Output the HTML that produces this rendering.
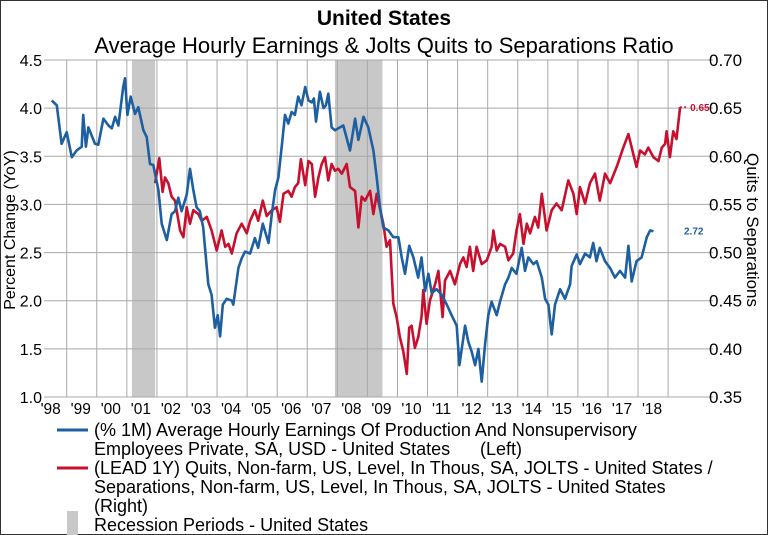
<!DOCTYPE html>
<html><head><meta charset="utf-8"><style>
html,body{margin:0;padding:0;background:#fff}
svg{display:block;font-family:"Liberation Sans",Arial,sans-serif}
</style></head><body>
<svg id="chart" width="768" height="535" viewBox="0 0 768 535">
<rect x="0.5" y="0.5" width="767" height="534" fill="#fff" stroke="#333"/>
<text x="384" y="25" text-anchor="middle" font-size="21" font-weight="bold" fill="#000">United States</text>
<text x="384" y="53" text-anchor="middle" font-size="22" fill="#000">Average Hourly Earnings &amp; Jolts Quits to Separations Ratio</text>
<g id="rec"></g>
<g id="grid"></g>
<g id="series"></g>
<g id="axes"></g>
<text transform="translate(15,230) rotate(-90)" text-anchor="middle" font-size="16" fill="#000">Percent Change (YoY)</text>
<text transform="translate(747,230) rotate(90)" text-anchor="middle" font-size="17" fill="#000">Quits to Separations</text>
<g font-size="18" fill="#000">
<line x1="57" y1="430" x2="88" y2="430" stroke="#1d5fa0" stroke-width="3"/>
<text x="94" y="436">(% 1M) Average Hourly Earnings Of Production And Nonsupervisory</text>
<text x="94" y="455">Employees Private, SA, USD - United States<tspan x="480">(Left)</tspan></text>
<line x1="57" y1="468" x2="88" y2="468" stroke="#c8102e" stroke-width="3"/>
<text x="94" y="474">(LEAD 1Y) Quits, Non-farm, US, Level, In Thous, SA, JOLTS - United States /</text>
<text x="94" y="493">Separations, Non-farm, US, Level, In Thous, SA, JOLTS - United States</text>
<text x="94" y="512">(Right)</text>
<rect x="67" y="511" width="11" height="24" fill="#c8c8c8"/>
<text x="94" y="531">Recession Periods - United States</text>
</g>
</svg>
<script>
const leftTicks=[1.0,1.5,2.0,2.5,3.0,3.5,4.0,4.5];
const rightTicks=[0.35,0.40,0.45,0.50,0.55,0.60,0.65,0.70];
const yearLabels=["'98","'99","'00","'01","'02","'03","'04","'05","'06","'07","'08","'09","'10","'11","'12","'13","'14","'15","'16","'17","'18"];
const recStart=[2001.17,2007.92];
const recEnd=[2001.94,2009.5];
const blueDates=[1998.5,1998.67,1998.83,1999.0,1999.17,1999.33,1999.5,1999.55,1999.64,1999.72,1999.94,2000.05,2000.22,2000.39,2000.5,2000.61,2000.72,2000.88,2000.94,2001.02,2001.13,2001.27,2001.38,2001.55,2001.66,2001.77,2001.88,2002.05,2002.16,2002.33,2002.49,2002.6,2002.71,2002.82,2002.99,2003.1,2003.21,2003.32,2003.43,2003.54,2003.71,2003.82,2003.93,2004.02,2004.1,2004.19,2004.32,2004.49,2004.54,2004.71,2004.82,2004.93,2005.1,2005.26,2005.37,2005.52,2005.71,2005.82,2005.93,2006.04,2006.15,2006.26,2006.37,2006.48,2006.59,2006.7,2006.81,2006.93,2007.04,2007.15,2007.22,2007.29,2007.42,2007.54,2007.62,2007.7,2007.81,2007.92,2008.03,2008.2,2008.42,2008.59,2008.7,2008.87,2009.03,2009.2,2009.31,2009.42,2009.53,2009.7,2009.86,2010.03,2010.14,2010.25,2010.39,2010.53,2010.69,2010.8,2010.92,2011.03,2011.14,2011.3,2011.47,2011.64,2011.8,2011.97,2012.06,2012.25,2012.36,2012.47,2012.58,2012.69,2012.8,2012.91,2013.02,2013.13,2013.3,2013.41,2013.58,2013.69,2013.8,2013.96,2014.13,2014.24,2014.35,2014.52,2014.63,2014.8,2014.91,2015.02,2015.13,2015.24,2015.41,2015.57,2015.74,2015.79,2015.96,2016.07,2016.24,2016.4,2016.51,2016.62,2016.73,2016.9,2017.07,2017.23,2017.4,2017.57,2017.68,2017.79,2017.95,2018.12,2018.29,2018.4,2018.51];
const blueValues=[4.08,4.03,3.63,3.75,3.49,3.56,3.6,3.93,3.6,3.8,3.63,3.62,3.89,3.82,3.79,3.91,3.82,4.22,4.31,3.93,4.12,3.94,4.01,3.77,3.7,3.42,3.41,3.15,2.8,2.63,2.9,2.93,3.07,2.93,3.1,3.37,3.15,2.97,2.93,2.76,2.17,2.06,1.72,1.85,1.63,1.96,2.02,2.0,1.96,2.34,2.44,2.51,2.49,2.65,2.55,2.8,2.6,2.9,3.15,3.28,3.6,3.93,3.84,3.96,3.93,4.12,4.03,4.22,4.08,4.06,4.1,3.86,4.17,4.0,4.03,4.15,3.8,3.77,3.79,3.82,3.56,3.89,3.67,3.91,3.8,3.56,3.28,2.97,2.76,2.73,2.66,2.66,2.45,2.28,2.57,2.45,2.24,2.45,2.1,2.28,2.08,2.12,2.06,1.96,1.85,1.74,1.33,1.74,1.57,1.47,1.33,1.5,1.16,1.54,1.85,1.99,1.85,1.99,2.17,2.24,2.34,2.28,2.55,2.31,2.45,2.38,2.41,2.24,2.02,1.96,1.65,1.96,2.12,2.02,2.17,2.36,2.48,2.38,2.49,2.45,2.6,2.41,2.55,2.41,2.34,2.24,2.31,2.24,2.57,2.2,2.41,2.45,2.66,2.73,2.72];
const redDates=[2001.94,2002.08,2002.19,2002.27,2002.38,2002.49,2002.6,2002.77,2002.88,2002.99,2003.1,2003.21,2003.38,2003.49,2003.66,2003.82,2003.99,2004.15,2004.27,2004.38,2004.49,2004.65,2004.82,2004.99,2005.1,2005.26,2005.37,2005.52,2005.65,2005.82,2005.98,2006.09,2006.21,2006.37,2006.48,2006.59,2006.7,2006.79,2006.93,2007.04,2007.15,2007.26,2007.37,2007.48,2007.59,2007.7,2007.81,2007.92,2008.03,2008.15,2008.31,2008.42,2008.59,2008.7,2008.81,2008.92,2009.09,2009.2,2009.31,2009.53,2009.64,2009.75,2009.86,2009.97,2010.08,2010.19,2010.31,2010.39,2010.47,2010.58,2010.69,2010.8,2010.86,2010.97,2011.08,2011.25,2011.36,2011.5,2011.58,2011.75,2011.91,2012.08,2012.19,2012.3,2012.41,2012.52,2012.63,2012.8,2012.97,2013.13,2013.19,2013.3,2013.41,2013.58,2013.69,2013.85,2013.96,2014.07,2014.19,2014.3,2014.41,2014.57,2014.68,2014.8,2014.96,2015.13,2015.29,2015.46,2015.68,2015.85,2015.96,2016.07,2016.24,2016.4,2016.57,2016.73,2016.9,2017.07,2017.29,2017.51,2017.68,2017.79,2017.95,2018.07,2018.23,2018.34,2018.51,2018.68,2018.79,2018.9,2018.95,2019.06,2019.17,2019.28,2019.4];
const redValues=[0.572,0.598,0.563,0.578,0.572,0.558,0.554,0.523,0.516,0.547,0.53,0.544,0.54,0.533,0.537,0.523,0.502,0.523,0.506,0.509,0.499,0.52,0.53,0.52,0.533,0.544,0.533,0.554,0.538,0.544,0.547,0.532,0.561,0.564,0.558,0.568,0.572,0.597,0.57,0.595,0.592,0.558,0.578,0.592,0.599,0.575,0.592,0.585,0.587,0.582,0.592,0.568,0.564,0.526,0.558,0.554,0.564,0.54,0.561,0.53,0.506,0.513,0.447,0.433,0.412,0.398,0.374,0.422,0.424,0.401,0.412,0.433,0.461,0.426,0.45,0.467,0.481,0.433,0.471,0.481,0.467,0.488,0.495,0.485,0.506,0.481,0.506,0.488,0.492,0.506,0.523,0.502,0.509,0.506,0.492,0.499,0.523,0.54,0.509,0.53,0.52,0.537,0.526,0.561,0.523,0.544,0.551,0.544,0.575,0.561,0.54,0.568,0.551,0.572,0.582,0.554,0.582,0.572,0.589,0.609,0.623,0.609,0.589,0.606,0.602,0.609,0.599,0.595,0.609,0.613,0.626,0.599,0.626,0.618,0.651];
const blueLast="2.72", redLast="0.65";

const NS="http://www.w3.org/2000/svg";
const X0=52,X1=707,YT=60,YB=397;
const xS=d=>66.7+(d-1999)*30.07;
const yL=v=>YB-(v-1.0)/3.5*(YB-YT);
const yR=v=>YB-(v-0.35)/0.35*(YB-YT);
function mk(tag,attrs,parent){const e=document.createElementNS(NS,tag);for(const k in attrs)e.setAttribute(k,attrs[k]);parent.appendChild(e);return e;}
const rec=document.getElementById('rec'),grid=document.getElementById('grid'),ser=document.getElementById('series'),axes=document.getElementById('axes');
for(let i=0;i<recStart.length;i++){
 const r=mk('rect',{x:xS(recStart[i]),y:YT,width:xS(recEnd[i])-xS(recStart[i]),height:YB-YT,fill:'#c8c8c8'},rec);
 
 
}
leftTicks.forEach((v,i)=>{
 const l=mk('line',{x1:X0-8,x2:X1+6,y1:yL(v),y2:yL(v),stroke:'#a8a8a8','stroke-width':1},grid);
 
 
 const t=mk('text',{x:42,y:yL(v)+6,'text-anchor':'end','font-size':16,fill:'#000'},axes);
 t.textContent=v.toFixed(1);
 
 
});
rightTicks.forEach(v=>{
 const t=mk('text',{x:709,y:yR(v)+6,'font-size':17,fill:'#000'},axes);
 t.textContent=v.toFixed(2);
 
 
});
yearLabels.forEach((lab,i)=>{
 const yr=1998+i;
 if(i>0){const g=mk('line',{x1:xS(yr),x2:xS(yr),y1:YT,y2:YB,stroke:'#a8a8a8','stroke-width':1},grid);
 
 }
 const t=mk('text',{x:xS(yr+0.5)-1,y:414,'text-anchor':'middle','font-size':15.5,fill:'#000'},axes);
 t.textContent=lab;
 
 
});
const gl=mk('line',{x1:xS(2019),x2:xS(2019),y1:YT,y2:YB,stroke:'#a8a8a8'},grid);


function path(dates,vals,ys){return dates.map((d,i)=>(i?'L':'M')+xS(d).toFixed(1)+','+ys(vals[i]).toFixed(1)).join('');}
const pr=mk('path',{d:path(redDates,redValues,yR),fill:'none',stroke:'#c8102e','stroke-width':2.6,'stroke-linejoin':'round'},ser);


const pb=mk('path',{d:path(blueDates,blueValues,yL),fill:'none',stroke:'#1d5fa0','stroke-width':2.6,'stroke-linejoin':'round'},ser);


const rl=redValues.length-1,bl=blueValues.length-1;
const rd=mk('line',{x1:xS(redDates[rl]),x2:xS(redDates[rl])+8,y1:yR(redValues[rl]),y2:yR(redValues[rl]),stroke:'#c8102e','stroke-width':1.5,'stroke-dasharray':'2,2'},ser);


const rt=mk('text',{x:xS(redDates[rl])+10,y:yR(redValues[rl])+4,'font-size':10,'font-weight':'bold',fill:'#c8102e'},ser);
rt.textContent=redLast;


const bt=mk('text',{x:684,y:yL(blueValues[bl])+3,'font-size':10,'font-weight':'bold',fill:'#1d5fa0'},ser);
bt.textContent=blueLast;


</script>
</body></html>
